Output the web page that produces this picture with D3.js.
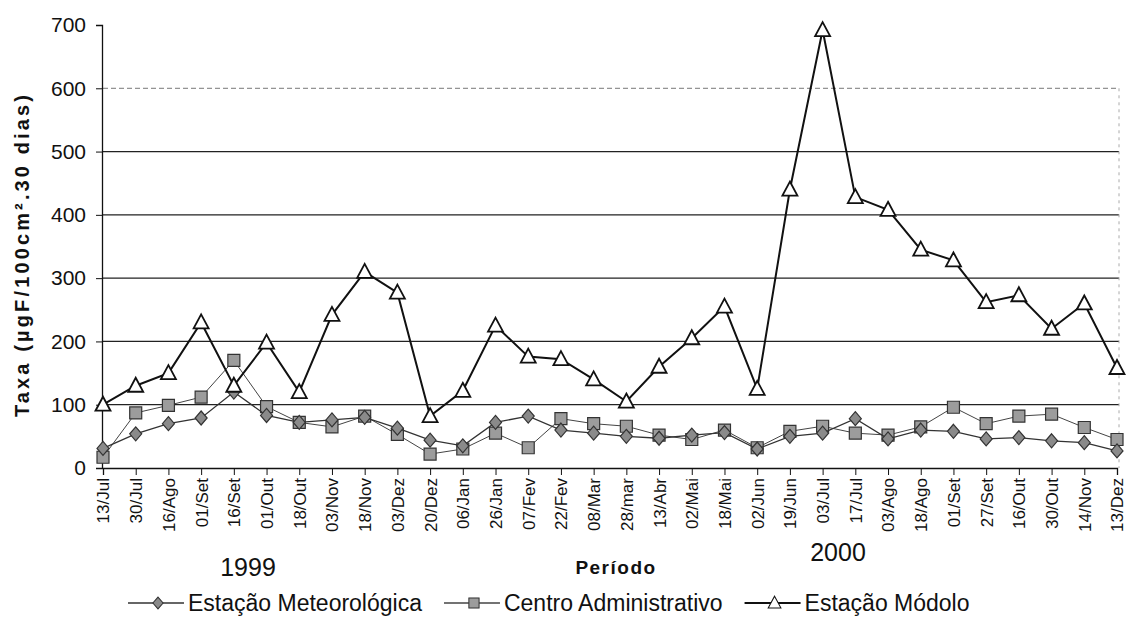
<!DOCTYPE html>
<html>
<head>
<meta charset="utf-8">
<script src="https://cdn.jsdelivr.net/npm/d3@7/dist/d3.min.js"></script>
<style>
  html, body { margin: 0; padding: 0; background: #fff; }
  svg { display: block; }
  text { font-family: "Liberation Sans", Arial, Helvetica, sans-serif; fill: #111; }
</style>
</head>
<body>
<svg id="chart" width="1128" height="640"></svg>
<script>
// ---- data ----
const categories = ["13/Jul","30/Jul","16/Ago","01/Set","16/Set","01/Out","18/Out","03/Nov","18/Nov","03/Dez",
  "20/Dez","06/Jan","26/Jan","07/Fev","22/Fev","08/Mar","28/mar","13/Abr","02/Mai","18/Mai","02/Jun",
  "19/Jun","03/Jul","17/Jul","03/Ago","18/Ago","01/Set","27/Set","16/Out","30/Out","14/Nov","13/Dez"];
const estacaoMeteorologica = [31,54,70,79,120,83,72,76,80,63,44,35,72,82,60,55,50,47,52,56,30,50,55,78,46,60,58,46,48,43,40,27];
const centroAdministrativo = [17,87,99,112,170,97,72,65,82,53,22,30,55,32,78,70,66,52,45,60,32,58,66,55,52,65,96,70,82,85,64,45];
const estacaoModolo = [100,130,150,230,130,198,120,242,310,277,82,122,225,176,172,140,105,160,205,255,125,440,692,428,408,345,328,262,273,220,260,158];
const yTicks = [0,100,200,300,400,500,600,700];
const seriesNames = ["Estação Meteorológica","Centro Administrativo","Estação Módolo"];
const yearLabels = ["1999","2000"];
const xTitle = "Período";
const yTitle = "Taxa (µgF/100cm².30 dias)";

// ---- layout ----
const svg = d3.select("#chart");
const X0 = 103, X1 = 1117, Y0 = 468, Y1 = 25;
const x = d3.scalePoint().domain(d3.range(categories.length)).range([X0, X1]).padding(0);
const y = d3.scaleLinear().domain([0, 700]).range([Y0, Y1]);

// gridlines
const grid = svg.append("g");
grid.selectAll("line").data(yTicks.filter(t => t > 0 && t < 700)).join("line")
  .attr("x1", X0).attr("x2", X1 + 2)
  .attr("y1", d => y(d)).attr("y2", d => y(d))
  .attr("stroke", d => d === 600 ? "#777" : "#222")
  .attr("stroke-width", d => d === 600 ? 1 : 1.2)
  .attr("stroke-dasharray", d => d === 600 ? "5,3" : null);

// right faint border
svg.append("line").attr("x1", X1 + 2).attr("x2", X1 + 2).attr("y1", y(600)).attr("y2", Y0)
  .attr("stroke", "#aaa").attr("stroke-dasharray", "3,4");

// y axis
const yAxis = d3.axisLeft(y).tickValues(yTicks).tickSize(6).tickPadding(10).tickFormat(d3.format("d"));
const gy = svg.append("g").attr("transform", `translate(${X0 - 1},0)`).call(yAxis);
gy.select(".domain").attr("stroke", "#111").attr("stroke-width", 1.3);
gy.selectAll(".tick line").attr("stroke", "#111");
gy.selectAll(".tick text").attr("font-size", 21).attr("fill", "#111")
  .style("font-family", '"Liberation Sans", Arial, sans-serif');

// x axis
const xAxis = d3.axisBottom(x).tickSize(7).tickPadding(4).tickFormat(i => categories[i]);
const gx = svg.append("g").attr("transform", `translate(0,${Y0})`).call(xAxis);
gx.select(".domain").attr("stroke", "#111").attr("stroke-width", 1.3);
gx.selectAll(".tick line").attr("stroke", "#111");
gx.selectAll(".tick text")
  .attr("font-size", 17).attr("fill", "#111")
  .style("font-family", '"Liberation Sans Narrow", "Liberation Sans", Arial, sans-serif')
  .attr("text-anchor", "end")
  .attr("transform", "rotate(-90)")
  .attr("x", -10).attr("y", 0).attr("dy", "0.35em");

// line generator
const line = d3.line().x((d, i) => x(i)).y(d => y(d));

function drawSeries(values, opts) {
  const g = svg.append("g");
  g.append("path").datum(values).attr("d", line).attr("fill", "none")
    .attr("stroke", opts.stroke).attr("stroke-width", opts.width);
  g.selectAll("path.m").data(values).join("path").attr("class", "m")
    .attr("transform", (d, i) => `translate(${x(i)},${y(d)})`)
    .attr("d", opts.symbol)
    .attr("fill", opts.fill).attr("stroke", opts.mstroke).attr("stroke-width", opts.mwidth);
}

const diamondPath = "M0,-7L6,0L0,7L-6,0Z";
const squarePath = "M-6,-6H6V6H-6Z";
const trianglePath = "M0,-8L7.5,6H-7.5Z";

drawSeries(centroAdministrativo, {stroke: "#444", width: 1, symbol: squarePath, fill: "#9c9c9c", mstroke: "#333", mwidth: 1.2});
drawSeries(estacaoMeteorologica, {stroke: "#333", width: 1.3, symbol: diamondPath, fill: "#8a8a8a", mstroke: "#333", mwidth: 1.2});
drawSeries(estacaoModolo, {stroke: "#111", width: 2, symbol: trianglePath, fill: "#fff", mstroke: "#111", mwidth: 1.8});

// y title
svg.append("text").attr("transform", "translate(29,256) rotate(-90)")
  .attr("text-anchor", "middle").attr("font-size", 20).attr("font-weight", "bold")
  .attr("textLength", 322).attr("lengthAdjust", "spacing")
  .text(yTitle);

// year labels and x title
svg.append("text").attr("x", 248).attr("y", 576).attr("text-anchor", "middle").attr("font-size", 25).text(yearLabels[0]);
svg.append("text").attr("x", 838).attr("y", 561).attr("text-anchor", "middle").attr("font-size", 25).text(yearLabels[1]);
svg.append("text").attr("x", 616).attr("y", 574).attr("text-anchor", "middle").attr("font-size", 19)
  .attr("font-weight", "bold").attr("letter-spacing", 1.5).text(xTitle);

// legend
const legendSymbols = [
  {symbol: diamondPath, fill: "#8a8a8a", stroke: "#333", lineStroke: "#333", lw: 1.3},
  {symbol: squarePath, fill: "#9c9c9c", stroke: "#333", lineStroke: "#444", lw: 1.3},
  {symbol: trianglePath, fill: "#fff", stroke: "#111", lineStroke: "#111", lw: 1.8}
];
const lg = svg.append("g");
let lx = 128;
const ly = 603;
seriesNames.forEach((name, i) => {
  const s = legendSymbols[i];
  lg.append("line").attr("x1", lx).attr("x2", lx + 56).attr("y1", ly).attr("y2", ly)
    .attr("stroke", s.lineStroke).attr("stroke-width", s.lw);
  lg.append("path").attr("transform", `translate(${lx + 30},${ly}) scale(0.85)`).attr("d", s.symbol)
    .attr("fill", s.fill).attr("stroke", s.stroke).attr("stroke-width", 1.2);
  const t = lg.append("text").attr("x", lx + 60).attr("y", ly + 8).attr("font-size", 23).text(name);
  lx = lx + 60 + t.node().getComputedTextLength() + 22;
});
</script>
</body>
</html>
